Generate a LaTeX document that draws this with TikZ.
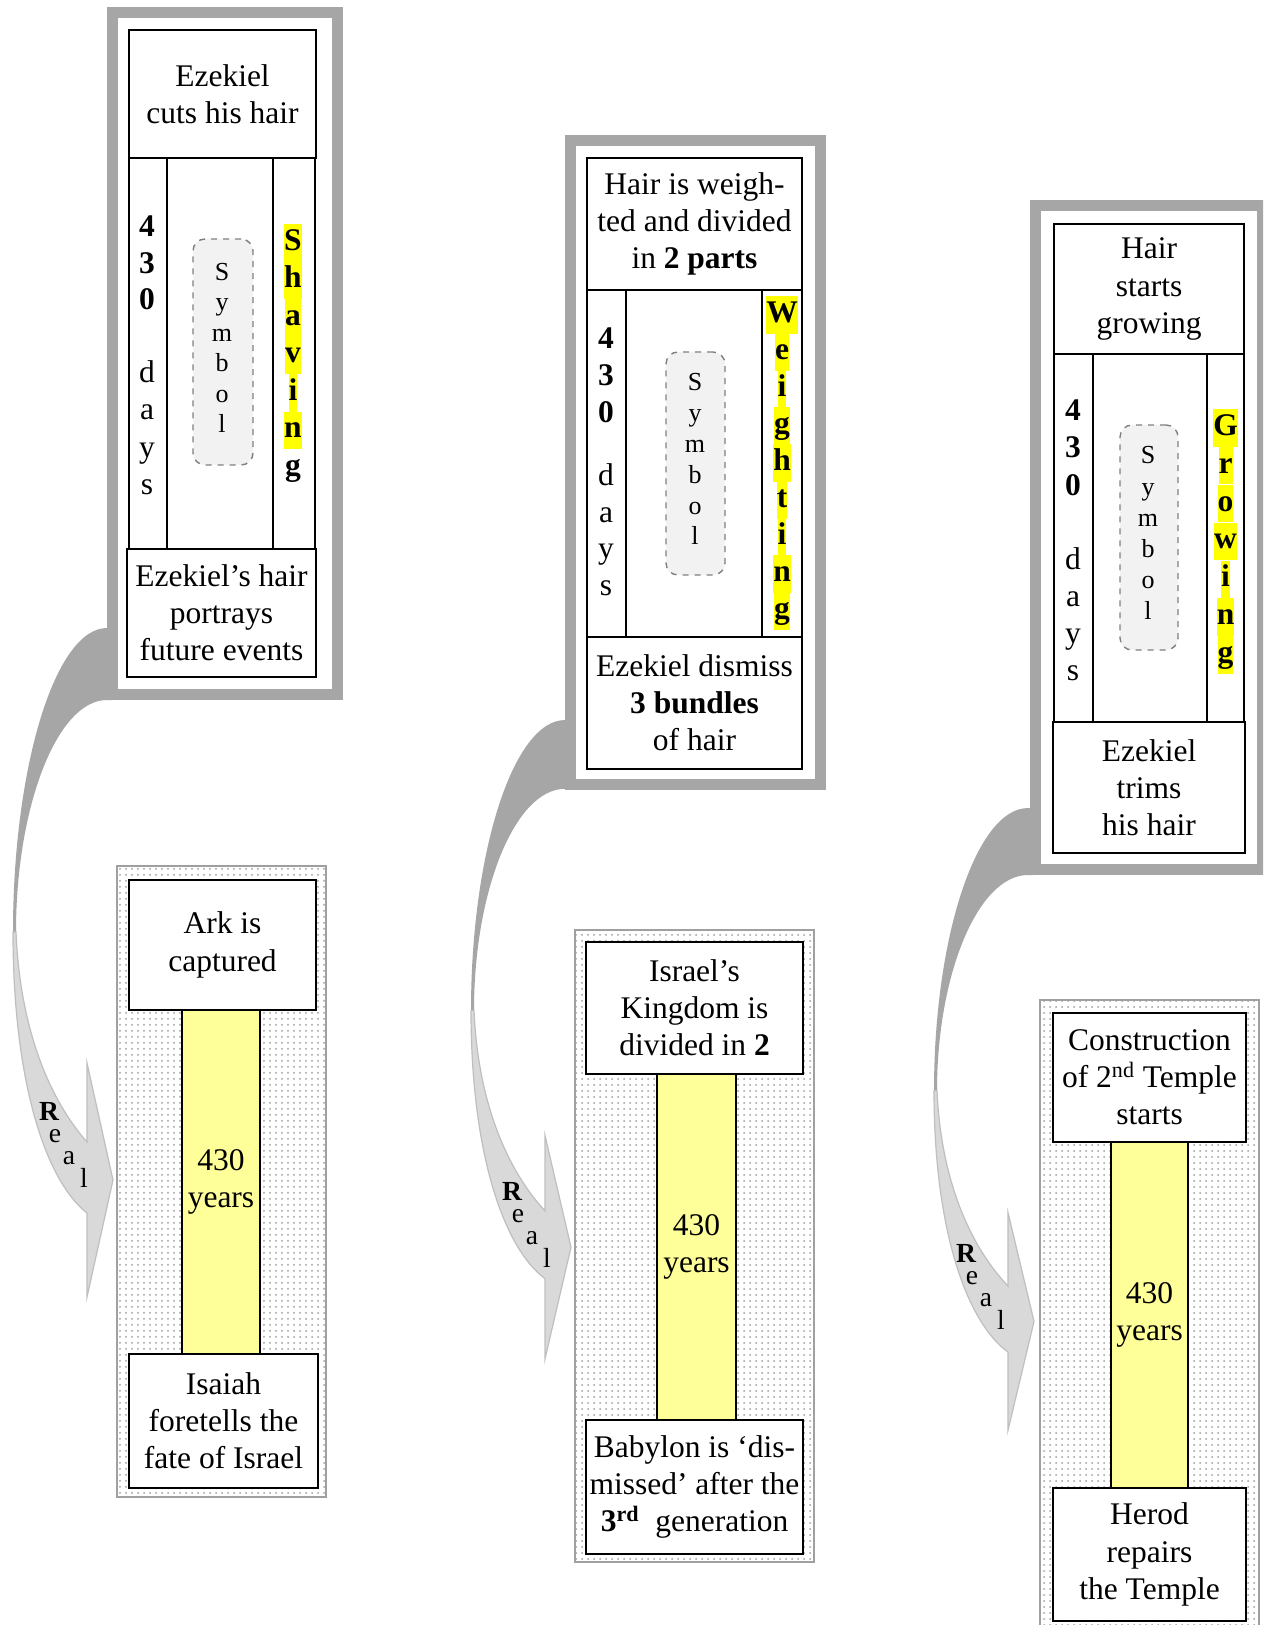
\documentclass[tikz,border=0pt]{standalone}
\usepackage{fontspec}
\setmainfont{Liberation Serif}
\usetikzlibrary{patterns}
\definecolor{framegray}{HTML}{A6A6A6}
\definecolor{ribbonlight}{HTML}{D9D9D9}
\definecolor{ribbonedge}{HTML}{BFBFBF}
\definecolor{symfill}{HTML}{F2F2F2}
\definecolor{symedge}{HTML}{808080}
\definecolor{barfill}{HTML}{FFFF99}
\definecolor{hlyellow}{HTML}{FFFF00}
\definecolor{dotborder}{HTML}{A0A0A0}
\newcommand\maintext{\fontsize{15.75}{18.6}\selectfont}
\newcommand\symtext{\fontsize{13}{15}\selectfont}
\newcommand\realtext{\fontsize{13.8}{15}\selectfont}
\tikzset{
  box/.style={draw=black, line width=1pt, fill=white, inner sep=0pt, align=center, font=\maintext},
  bar/.style={box, fill=barfill},
  framebox/.style={draw=framegray, line width=5.5pt, fill=white, inner sep=0pt},
  dotbox/.style={draw=dotborder, line width=0.8pt, pattern=dots, pattern color=gray!75, inner sep=0pt},
  symbox/.style={draw=symedge, dashed, line width=0.7pt, fill=symfill, rounded corners=6pt, inner sep=0pt},
  vl/.style={inner xsep=0pt, inner ysep=0pt, text height=11pt, text depth=3.5pt, font=\maintext},
  hl/.style={vl, fill=hlyellow, inner ysep=2.1pt},
  sl/.style={inner sep=0pt, text height=9pt, text depth=3pt, font=\symtext},
  rl/.style={inner sep=0pt, font=\realtext},
}
% box from corner (x1,y1) to (x2,y2) in pixel units
\newcommand\bx[7][box]{\node[#1, minimum width={(#5-#3)*0.5pt}, minimum height={(#6-#4)*0.5pt}] (#2) at ({(#3+#5)/2},{(#4+#6)/2}) {#7};}
% gray frame with outer corners (x1,y1)-(x2,y2)
\newcommand\frm[5]{\node[framebox, minimum width={(#4-#2-11)*0.5pt}, minimum height={(#5-#3-11)*0.5pt}] (#1) at ({(#2+#4)/2},{(#3+#5)/2}) {};}
% curved arrow: name prefix, xshift, yshift, yscale, R position (x,y)
\newcommand\curvearrow[6]{%
\begin{scope}[shift={(#2,#3)}, yscale=#4]
  \fill[framegray] (112,628) -- (107,628) .. controls (55,628) and (13,768) .. (13,932) -- (16,932) .. controls (16,807) and (57,700) .. (107,700) -- (112,700) -- cycle;
  \filldraw[fill=ribbonlight, draw=ribbonedge, line width=0.6pt] (13,932) .. controls (13,1080) and (45,1180) .. (87,1213) -- (87,1297) -- (113,1180) -- (87,1063) -- (87,1142) .. controls (50,1100) and (20,1030) .. (16,932) -- cycle;
\end{scope}
\begin{scope}[shift={(#5,#6)}]
  \node[rl, font=\realtext\bfseries] (#1R) at (0,0) {R};
  \node[rl] (#1e) at (6,25) {e};
  \node[rl] (#1a) at (20,47) {a};
  \node[rl] (#1l) at (35,67) {l};
\end{scope}}

\begin{document}
\begin{tikzpicture}[x=0.5pt, y=-0.5pt]
\useasboundingbox (0,0) rectangle (1263,1625);
\clip (0,0) rectangle (1263,1625);
\fill[white] (0,0) rectangle (1263,1625);

% ---------- curved arrows ----------
\curvearrow{ca}{0}{0}{1}{49}{1111}
\curvearrow{cb}{458}{120.3}{0.955}{512}{1191}
\curvearrow{cc}{921}{224}{0.93}{966}{1253}

% ---------- column 1 (symbol) ----------
\frm{f1}{107}{7}{343}{700}
\bx{t1}{129}{30}{316}{158}{Ezekiel\\cuts his hair}
\bx{l1}{129}{158}{167}{549}{}
\bx{r1}{273}{158}{315}{549}{}
\bx{b1}{127}{549}{316}{677}{Ezekiel’s hair\\portrays\\future events}
\bx[symbox]{s1}{193}{239}{253}{465}{}
\foreach \ch [count=\k] in {4,3,0} \node[vl] (na\k) at (147,{229+(\k-1)*36.7}) {\textbf{\ch}};
\foreach \ch [count=\k] in {d,a,y,s} \node[vl] (da\k) at (147,{375+(\k-1)*37.3}) {\ch};
\foreach \ch [count=\k] in {S,y,m,b,o,l} \node[sl] (sa\k) at (222,{274.5+(\k-1)*30.5}) {\ch};
\foreach \ch [count=\k] in {S,h,a,v,i,n} \node[hl] (wa\k) at (293,{243+(\k-1)*37.5}) {\textbf{\ch}};
\node[vl] (wa7) at (293,{243+6*37.5}) {\textbf{g}};

% ---------- column 2 (symbol) ----------
\frm{f2}{565}{135}{826}{790}
\bx{t2}{587}{158}{802}{290}{Hair is weigh-\\ted and divided\\in \textbf{2 parts}}
\bx{l2}{587}{290}{626}{637}{}
\bx{r2}{762}{290}{802}{637}{}
\bx{b2}{587}{637}{802}{769}{Ezekiel dismiss\\\textbf{3 bundles}\\of hair}
\bx[symbox]{s2}{666}{352}{725}{575}{}
\foreach \ch [count=\k] in {4,3,0} \node[vl] (nb\k) at (606,{341+(\k-1)*37}) {\textbf{\ch}};
\foreach \ch [count=\k] in {d,a,y,s} \node[vl] (db\k) at (606,{478+(\k-1)*36.7}) {\ch};
\foreach \ch [count=\k] in {S,y,m,b,o,l} \node[sl] (sb\k) at (695,{385+(\k-1)*30.8}) {\ch};
\foreach \ch [count=\k] in {W,e,i,g,h,t,i,n,g} \node[hl] (wb\k) at (782,{315+(\k-1)*37}) {\textbf{\ch}};

% ---------- column 3 (symbol) ----------
\frm{f3}{1030}{200}{1268}{875}
\bx{t3}{1054}{224}{1244}{354}{Hair\\starts\\growing}
\bx{l3}{1054}{354}{1093}{722}{}
\bx{r3}{1207}{354}{1244}{722}{}
\bx{b3}{1053}{722}{1245}{853}{Ezekiel\\trims\\his hair}
\bx[symbox]{s3}{1120}{425}{1178}{650}{}
\foreach \ch [count=\k] in {4,3,0} \node[vl] (nc\k) at (1073,{413+(\k-1)*37.5}) {\textbf{\ch}};
\foreach \ch [count=\k] in {d,a,y,s} \node[vl] (dc\k) at (1073,{562+(\k-1)*37}) {\ch};
\foreach \ch [count=\k] in {S,y,m,b,o,l} \node[sl] (sc\k) at (1148,{458+(\k-1)*31}) {\ch};
\foreach \ch [count=\k] in {G,r,o,w,i,n,g} \node[hl] (wc\k) at (1225.5,{428+(\k-1)*37.8}) {\textbf{\ch}};

% ---------- real events ----------
\bx[dotbox]{d1}{117}{866}{326}{1497}{}
\bx[bar]{y1}{182}{1010}{260}{1354}{430\\years}
\bx{a1}{129}{880}{316}{1010}{Ark is\\captured}
\bx{c1}{129}{1354}{318}{1488}{Isaiah\\foretells the\\fate of Israel}

\bx[dotbox]{d2}{575}{930}{814}{1562}{}
\bx[bar]{y2}{657}{1074}{736}{1420}{430\\years}
\bx{a2}{586}{942}{803}{1074}{Israel’s\\Kingdom is\\divided in \textbf{2}}
\bx{c2}{586}{1420}{803}{1554}{Babylon is ‘dis-\\missed’ after the\\\textbf{3\textsuperscript{rd}}\enspace generation}

\bx[dotbox]{d3}{1040}{1000}{1259}{1640}{}
\bx[bar]{y3}{1111}{1142}{1188}{1488}{430\\years}
\bx{a3}{1053}{1013}{1246}{1142}{Construction\\of 2\textsuperscript{nd} Temple\\starts}
\bx{c3}{1053}{1488}{1246}{1621}{Herod\\repairs\\the Temple}
\end{tikzpicture}
\end{document}
